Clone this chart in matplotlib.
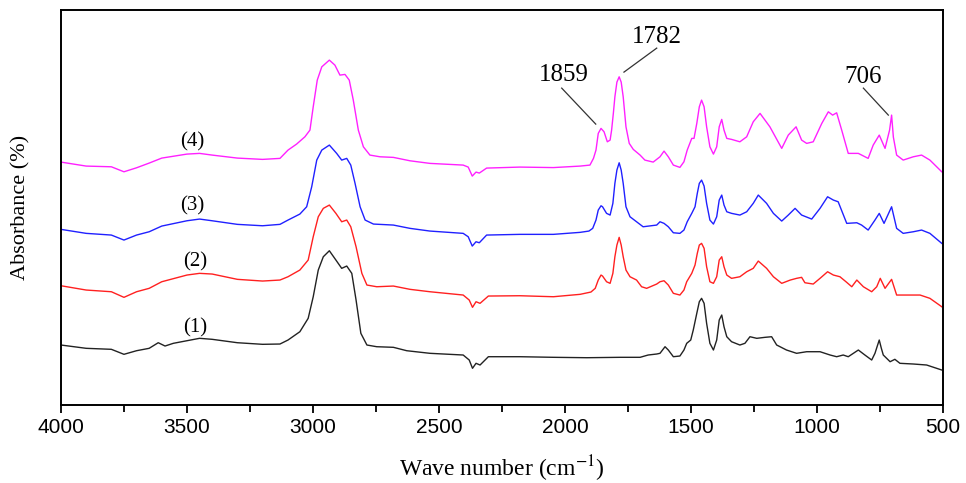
#FTIR spectra of four samples, stacked, wave number axis reversed (4000 -> 500 cm-1)
import numpy as np
import matplotlib
matplotlib.use('Agg')
import matplotlib.pyplot as plt
from matplotlib.ticker import MultipleLocator

plt.rcParams['mathtext.fontset'] = 'stix'

#Curve (1) - black
wn1 = [4000, 3900, 3800, 3750, 3700, 3650, 3614, 3587, 3554, 3500, 3450, 3400, 3300, 3200, 3131,
       3099, 3052, 3019, 2999, 2979, 2959, 2935, 2909, 2886, 2866, 2846, 2829, 2810, 2786, 2747,
       2681, 2628, 2536, 2404, 2380, 2367, 2353, 2337, 2304, 2179, 2046, 1913, 1781, 1702, 1670,
       1636, 1623, 1603, 1590, 1570, 1544, 1528, 1517, 1501, 1491, 1477, 1467, 1458, 1448, 1438,
       1425, 1411, 1398, 1388, 1378, 1369, 1358, 1339, 1306, 1286, 1266, 1239, 1206, 1180, 1160,
       1121, 1081, 1041, 988, 948, 922, 896, 876, 836, 810, 783, 770, 762, 753, 745, 737,
       710, 691, 671, 618, 565, 505]
ab1 = [60, 56.7, 55.7, 50.7, 54.3, 56.7, 62.3, 59, 61.7, 64.3, 66.7, 65.7, 62.3, 60.7, 61,
       65, 73.3, 86.7, 108.3, 135, 148.3, 154.3, 145, 136.7, 139, 131.7, 105, 71.7, 60, 58.3,
       57.7, 54.3, 51.7, 50, 45, 36.7, 41.7, 40, 48.3, 48.3, 47.7, 47.3, 47.7, 47.7, 50,
       51, 51.7, 58.3, 55, 48.3, 49, 55, 61.7, 65, 75, 91.7, 103.3, 106.7, 101.7, 81.7,
       61.7, 55, 65, 85, 90, 78.3, 68.3, 63.3, 60, 61.7, 68.3, 66.7, 67.7, 68.3, 60,
       55, 51.7, 53.3, 53.3, 50, 48.3, 50, 48.3, 55, 50, 45, 51.7, 58, 65, 57, 50,
       43.3, 45.7, 41.7, 41, 40, 35]

#Curve (2) - red
wn2 = [4000, 3900, 3800, 3750, 3700, 3650, 3600, 3500, 3450, 3400, 3300, 3200, 3131, 3099, 3052,
       3019, 2999, 2979, 2959, 2935, 2909, 2886, 2866, 2850, 2829, 2806, 2786, 2747, 2681, 2615,
       2536, 2404, 2380, 2367, 2353, 2337, 2304, 2179, 2046, 1940, 1897, 1880, 1868, 1857, 1851,
       1835, 1821, 1810, 1802, 1794, 1785, 1777, 1769, 1758, 1742, 1716, 1696, 1676, 1636, 1623,
       1607, 1590, 1570, 1544, 1528, 1517, 1497, 1484, 1475, 1467, 1458, 1448, 1438, 1425, 1411,
       1398, 1388, 1378, 1369, 1358, 1339, 1306, 1279, 1253, 1233, 1200, 1173, 1140, 1106, 1081,
       1061, 1048, 1015, 988, 958, 935, 909, 885, 862, 842, 816, 783, 763, 749, 730, 704,
       684, 644, 591, 552, 505]
ab2 = [119.3, 115, 113.3, 107.7, 113.3, 116.7, 123.3, 130, 131.7, 131, 125.7, 124, 125, 128.3, 135,
       145, 168.3, 188.3, 196.7, 200, 191.7, 183.3, 185, 178.3, 158.3, 131.7, 120, 118.3, 119, 115.7,
       113.3, 110, 105, 97.7, 103.3, 101.7, 109, 109.3, 108.3, 110.7, 113, 116.7, 125, 130, 129,
       123.3, 121.7, 131.7, 148.3, 160, 167.7, 160, 148.3, 135, 128.3, 125, 118.3, 116.7, 121, 123.3,
       124.3, 120, 111.7, 110, 115, 123.3, 131.7, 140, 151.7, 160, 161.7, 156.7, 138.3, 123.3, 121.7,
       128.3, 145, 148.3, 138.3, 130, 126.7, 128.3, 133.3, 136.7, 144, 136.7, 128.3, 121.7, 125, 126.7,
       127.7, 122.3, 121, 126.7, 133.3, 130, 128.3, 123.3, 118.3, 125, 118.3, 113.3, 118.3, 126.7, 116.7, 125.7,
       110, 110, 110, 106.7, 98.3]

#Curve (3) - blue
wn3 = [4000, 3900, 3800, 3750, 3700, 3650, 3600, 3500, 3450, 3400, 3300, 3200, 3131, 3099, 3052,
       3025, 3005, 2985, 2965, 2935, 2906, 2886, 2866, 2850, 2833, 2813, 2793, 2760, 2681, 2615,
       2536, 2404, 2384, 2368, 2353, 2340, 2311, 2179, 2046, 1940, 1905, 1890, 1877, 1868, 1857,
       1851, 1835, 1821, 1810, 1802, 1794, 1785, 1777, 1769, 1758, 1742, 1716, 1690, 1636, 1623,
       1607, 1590, 1570, 1544, 1528, 1515, 1497, 1484, 1475, 1467, 1458, 1448, 1438, 1425, 1411,
       1398, 1388, 1378, 1369, 1358, 1339, 1306, 1279, 1253, 1233, 1200, 1173, 1140, 1114, 1087,
       1061, 1021, 988, 958, 935, 916, 882, 842, 823, 797, 770, 753, 734, 704, 684, 658,
       618, 585, 552, 505]
ab3 = [175.7, 171.7, 170, 165, 170, 173.3, 179, 184.3, 186, 184.3, 180.7, 179.3, 180.7, 185, 191,
       198.3, 218.3, 245, 255, 260, 251.7, 245, 246.7, 240, 221.7, 198.3, 185, 181, 180, 176.7,
       174, 171.7, 168.3, 159, 163.3, 162.3, 170, 170.7, 170.7, 172.7, 174, 176.7, 185, 195, 199.3,
       198.3, 191.7, 190, 201.7, 221.7, 235, 242.3, 235, 221.7, 198.3, 188.3, 183.3, 178.3, 180, 183.3,
       181.7, 178.3, 172.3, 171.7, 175, 183.3, 191.7, 198.3, 211.7, 221.7, 225, 219, 201.7, 185, 181,
       188.3, 205, 210, 200, 193.3, 191.7, 190, 193.3, 201.7, 210, 201.7, 191.7, 184, 190, 196.7,
       190, 186, 196.7, 208.3, 205, 203.3, 181.7, 182.3, 180, 175, 185, 191.7, 181.7, 198.3, 176.7, 171.7,
       173.3, 175, 171.7, 161.7]

#Curve (4) - magenta
wn4 = [4000, 3900, 3800, 3750, 3700, 3650, 3600, 3500, 3450, 3400, 3300, 3200, 3131, 3099, 3065,
       3032, 3012, 2999, 2983, 2965, 2935, 2913, 2893, 2873, 2856, 2840, 2820, 2800, 2774, 2734,
       2681, 2615, 2536, 2404, 2384, 2368, 2353, 2340, 2311, 2179, 2046, 1940, 1901, 1887, 1877,
       1868, 1857, 1845, 1832, 1821, 1815, 1808, 1802, 1794, 1785, 1777, 1769, 1758, 1745, 1729,
       1702, 1683, 1650, 1623, 1607, 1590, 1570, 1544, 1528, 1515, 1497, 1488, 1477, 1467, 1458,
       1448, 1438, 1425, 1411, 1398, 1388, 1378, 1369, 1358, 1339, 1306, 1279, 1253, 1226, 1187,
       1140, 1114, 1083, 1061, 1041, 1015, 981, 955, 938, 922, 902, 876, 836, 797, 777, 753,
       730, 712, 704, 697, 684, 658, 618, 585, 552, 505]
ab4 = [243, 239, 238.3, 233.3, 237.3, 242, 247, 251, 251.7, 250, 247, 245.7, 246.7, 255, 261,
       268.3, 275, 298.3, 325, 338.3, 345, 340, 330, 330.7, 325, 305, 275, 258.3, 250, 248.3,
       247.7, 244.3, 241.7, 240, 238, 229, 233, 232, 237, 238, 237.5, 239, 240, 246.7, 255,
       271.7, 276.7, 273.3, 263.3, 265, 275, 292, 308.3, 323, 328.3, 323, 308.3, 278.3, 261.7, 255.7,
       250, 245, 243, 248.3, 254, 248.3, 240, 237.7, 243.3, 255, 266.7, 266.7, 281.7, 298.3, 305,
       298.3, 278.3, 258.3, 251, 258.3, 278.3, 285.7, 275, 266.7, 265.7, 263.3, 268.3, 283.3, 291.7, 278.3,
       256.7, 270, 278.3, 265, 261.7, 263.3, 281.7, 293.3, 290, 292.3, 275, 251.7, 251.7, 246.7, 260, 270,
       256.7, 275, 290, 268, 250, 245, 248.3, 250, 245, 233.3]

#Sample labels and their positions
labels = ['(1)', '(2)', '(3)', '(4)']
label_wn = [3468, 3468, 3481, 3481]
label_ab = [77, 143, 199, 263]

#Peak annotations: text, text position, ends of the pointer line
peaks = ['1859', '1782', '706']
peak_text_wn = [2004, 1636, 816]
peak_text_ab = [330, 368, 328]
peak_line_start = [(2013, 317), (1636, 357), (816, 317)]
peak_line_end = [(1878, 281), (1766, 333), (717, 290)]

fig = plt.figure(figsize=(9.66, 4.83), dpi=100)
ax = fig.add_axes([0.0631, 0.1615, 0.9131, 0.8175])

ax.plot(wn1, ab1, color='#222222', lw=1.0)
ax.plot(wn2, ab2, color='#ff2020', lw=1.0)
ax.plot(wn3, ab3, color='#2020ff', lw=1.0)
ax.plot(wn4, ab4, color='#ff20ff', lw=1.0)

for lab, w, a in zip(labels, label_wn, label_ab):
    ax.text(w, a, lab, ha='center', va='center', fontsize=15, family='Liberation Serif')

for p, w, a, s, e in zip(peaks, peak_text_wn, peak_text_ab, peak_line_start, peak_line_end):
    ax.text(w, a, p, ha='center', va='center', fontsize=18, family='Liberation Serif')
    ax.plot([s[0], e[0]], [s[1], e[1]], color='#333333', lw=0.9)

ax.set_xlim(4000, 500)
ax.set_ylim(0, 395)
ax.xaxis.set_major_locator(MultipleLocator(500))
ax.xaxis.set_minor_locator(MultipleLocator(250))
ax.tick_params(axis='x', which='major', direction='out', length=6, width=1.3, labelsize=15, top=False)
ax.tick_params(axis='x', which='minor', direction='out', length=5, width=1.3, top=False)
ax.tick_params(axis='y', left=False, right=False, labelleft=False)
for lbl in ax.get_xticklabels():
    lbl.set_family('Liberation Sans')
for sp in ax.spines.values():
    sp.set_linewidth(1.4)

ax.set_xlabel(r'Wave number (cm$^{-1}$)', fontsize=17, family='Liberation Serif', labelpad=12)
ax.set_ylabel('Absorbance (%)', fontsize=16, family='Liberation Serif', labelpad=22)

plt.savefig('out.png', dpi=100)
